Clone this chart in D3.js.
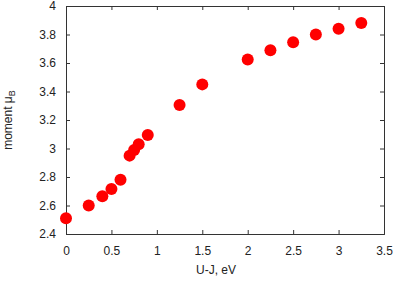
<!DOCTYPE html>
<html>
<head>
<meta charset="utf-8">
<script src="https://cdn.jsdelivr.net/npm/d3@7"></script>
<style>
body { margin: 0; background: #fff; }
text { font-family: "Liberation Sans", Arial, sans-serif; font-size: 12px; fill: #222; }
</style>
</head>
<body>
<div id="chart"></div>
<script>
// U-J values (eV) and moments (mu_B)
var uj = [0, 0.25, 0.4, 0.5, 0.6, 0.7, 0.75, 0.8, 0.9, 1.25, 1.5, 2.0, 2.25, 2.5, 2.75, 3.0, 3.25];
var moment = [2.51, 2.6, 2.665, 2.715, 2.78, 2.95, 2.99, 3.03, 3.095, 3.305, 3.45, 3.625, 3.69, 3.745, 3.8, 3.84, 3.88];
var xTicks = [0, 0.5, 1, 1.5, 2, 2.5, 3, 3.5];
var yTicks = [2.4, 2.6, 2.8, 3, 3.2, 3.4, 3.6, 3.8, 4];

var W = 400, H = 281;
var m = {left: 66, right: 16, top: 6, bottom: 47};
var w = W - m.left - m.right, h = H - m.top - m.bottom;

var svg = d3.select("#chart").append("svg").attr("width", W).attr("height", H);
var g = svg.append("g").attr("transform", "translate(" + m.left + "," + m.top + ")");

var x = d3.scaleLinear().domain([0, 3.5]).range([0, w]);
var y = d3.scaleLinear().domain([2.4, 4]).range([h, 0]);

// inward ticks on all sides
g.append("g").attr("transform", "translate(0," + h + ")")
	.call(d3.axisBottom(x).tickValues(xTicks).tickSize(-4).tickPadding(12).tickFormat(d3.format("")));
g.append("g")
	.call(d3.axisTop(x).tickValues(xTicks).tickSize(-4).tickFormat(""));
g.append("g")
	.call(d3.axisLeft(y).tickValues(yTicks).tickSize(-4).tickPadding(10).tickFormat(d3.format("")));
g.append("g").attr("transform", "translate(" + w + ",0)")
	.call(d3.axisRight(y).tickValues(yTicks).tickSize(-4).tickFormat(""));

g.selectAll(".domain").attr("stroke", "#333");
g.selectAll(".tick line").attr("stroke", "#333");
g.selectAll(".tick text").style("font-size", "12px").attr("fill", "#222");

g.selectAll("circle.pt")
	.data(uj)
	.enter()
	.append("circle")
	.attr("class", "pt")
	.attr("cx", function(d) { return x(d); })
	.attr("cy", function(d, i) { return y(moment[i]); })
	.attr("r", 6)
	.style("fill", "#ff0000");

svg.append("text")
	.attr("x", 216).attr("y", 274)
	.style("text-anchor", "middle")
	.text("U-J, eV");

var yl = svg.append("text")
	.attr("transform", "translate(12," + (m.top + h / 2) + ") rotate(-90)")
	.style("text-anchor", "middle");
yl.append("tspan").text("moment \u03bc");
yl.append("tspan").attr("dy", 3).style("font-size", "9px").text("B");
</script>
</body>
</html>
